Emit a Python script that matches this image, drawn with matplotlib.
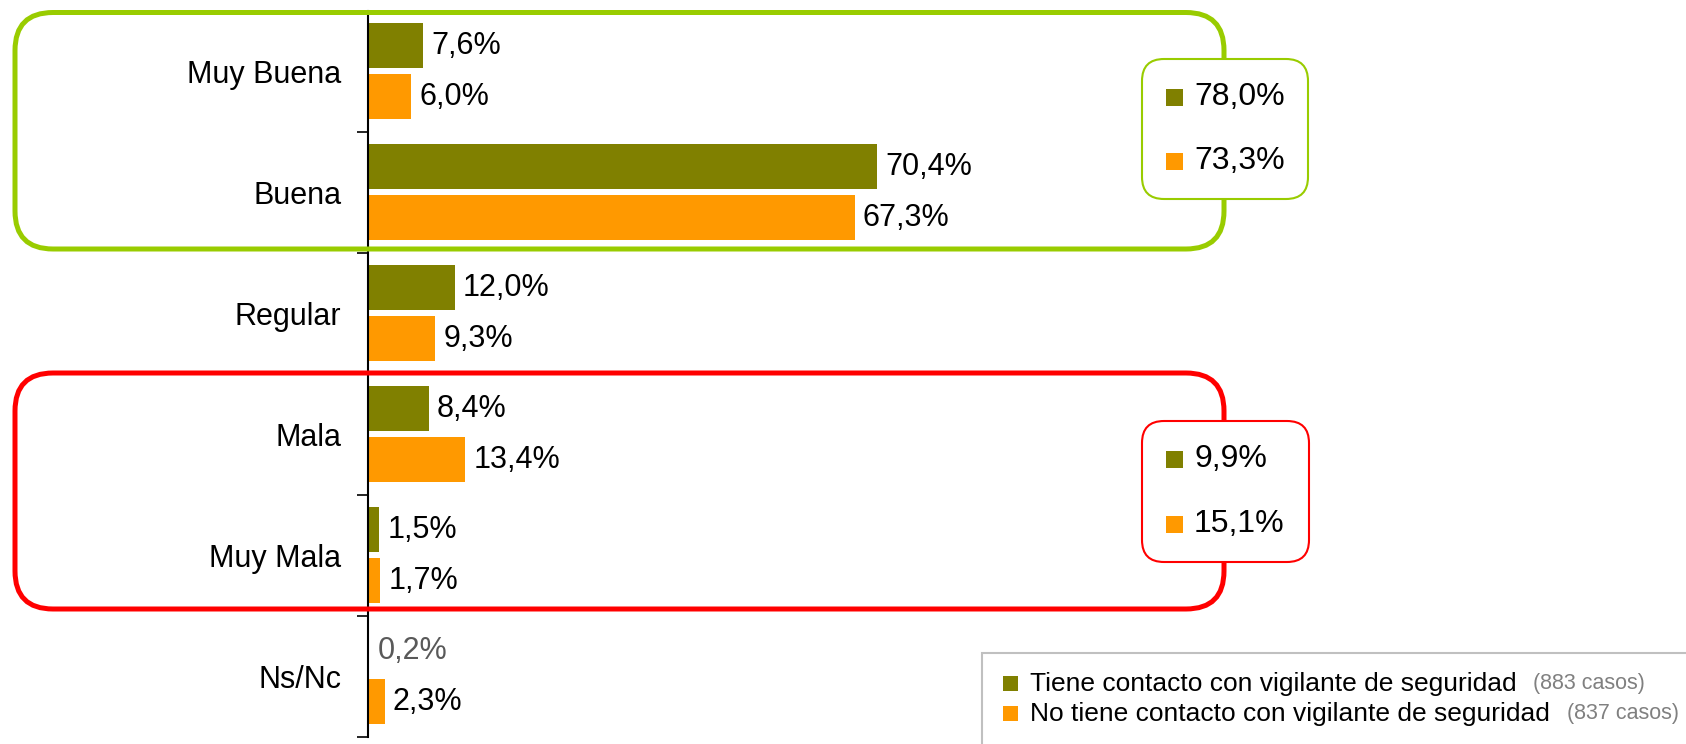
import numpy as np
import matplotlib.pyplot as plt
from matplotlib.patches import FancyBboxPatch, Rectangle

plt.rcParams['font.family'] = ['Liberation Sans', 'DejaVu Sans']

# data
categories = ['Muy Buena', 'Buena', 'Regular', 'Mala', 'Muy Mala', 'Ns/Nc']
con_vigilante = [7.6, 70.4, 12.0, 8.4, 1.5, 0.2]
sin_vigilante = [6.0, 67.3, 9.3, 13.4, 1.7, 2.3]
series_names = ['Tiene contacto con vigilante de seguridad',
                'No tiene contacto con vigilante de seguridad']
casos = [883, 837]
resumen_buena = [78.0, 73.3]   # Muy Buena + Buena
resumen_mala = [9.9, 15.1]     # Mala + Muy Mala

OLIVE = '#808000'
ORANGE = '#FF9900'
GREEN = '#99CC00'
RED = '#FF0000'

W, H = 1686, 744
fig = plt.figure(figsize=(W / 100, H / 100), dpi=100)


def pct(v):
    return f"{v:.1f}%".replace('.', ',')


# main bar axes (pixel layout: spine at x=368, 1% ~ 7.23 px)
ax = fig.add_axes([368 / W, 7.4 / H, 723 / W, 726 / H])
y = np.arange(len(categories))
off, h = 0.21, 0.37
ax.barh(y - off, con_vigilante, height=h, color=OLIVE)
ax.barh(y + off, sin_vigilante, height=h, color=ORANGE)

for yi, v in zip(y - off, con_vigilante):
    ax.annotate(pct(v), (v, yi), xytext=(6, 0), textcoords='offset points',
                va='center', ha='left', fontsize=22,
                color='#595959' if v < 1 else 'black')
for yi, v in zip(y + off, sin_vigilante):
    ax.annotate(pct(v), (v, yi), xytext=(6, 0), textcoords='offset points',
                va='center', ha='left', fontsize=22, color='black')

ax.set_xlim(0, 100)
ax.set_ylim(len(categories) - 0.5, -0.5)
ax.set_yticks(y)
ax.set_yticklabels(categories, fontsize=22)
ax.tick_params(axis='y', which='major', length=0, pad=19)
ax.set_yticks(np.arange(len(categories) + 1) - 0.5, minor=True)
ax.tick_params(axis='y', which='minor', length=8, width=1.2, direction='out')
ax.set_xticks([])
for s in ['top', 'right', 'bottom']:
    ax.spines[s].set_visible(False)
ax.spines['left'].set_linewidth(1.5)
ax.patch.set_alpha(0)

# overlay in pixel coordinates for the highlight frames and legend
ov = fig.add_axes([0, 0, 1, 1], zorder=5)
ov.set_xlim(0, W)
ov.set_ylim(H, 0)
ov.axis('off')
ov.patch.set_alpha(0)


def frame(x0, y0, x1, y1, color, lw, r, fill='none', z=1):
    ov.add_patch(FancyBboxPatch((x0, y0), x1 - x0, y1 - y0,
                                boxstyle=f"round,pad=0,rounding_size={r}",
                                fc=fill, ec=color, lw=lw, zorder=z))


def summary(x0, y0, x1, y1, color, values, rows):
    frame(x0, y0, x1, y1, color, 1.5, 22, fill='white', z=2)
    for v, c, yc in zip(values, [OLIVE, ORANGE], rows):
        ov.add_patch(Rectangle((1166, yc - 8.5), 17, 17, fc=c, ec='none', zorder=3))
        ov.text(1194, yc, pct(v), fontsize=23, va='center', ha='left', zorder=3)


frame(15, 12.5, 1224, 249, GREEN, 3.6, 38)
summary(1142, 59, 1308, 199, GREEN, resumen_buena, [97, 161])
frame(15, 373, 1224, 609, RED, 3.6, 38)
summary(1142, 421, 1309, 562, RED, resumen_mala, [459, 524])

# legend box
ov.add_patch(Rectangle((982, 653), 720, 120, fc='white', ec='#C0C0C0', lw=1.5, zorder=2))
for name, n, c, yc in zip(series_names, casos, [OLIVE, ORANGE], [684, 714]):
    ov.add_patch(Rectangle((1003, yc - 8), 15, 15, fc=c, ec='none', zorder=3))
    t = ov.text(1030, yc, name, fontsize=19, va='center', ha='left', zorder=3)
    ov.annotate(f"({n} casos)", xy=(1, 0.5), xycoords=t, xytext=(12, 0),
                textcoords='offset points', va='center', ha='left',
                fontsize=15.5, color='#808080', zorder=3)

fig.savefig('out.png', dpi=100)
